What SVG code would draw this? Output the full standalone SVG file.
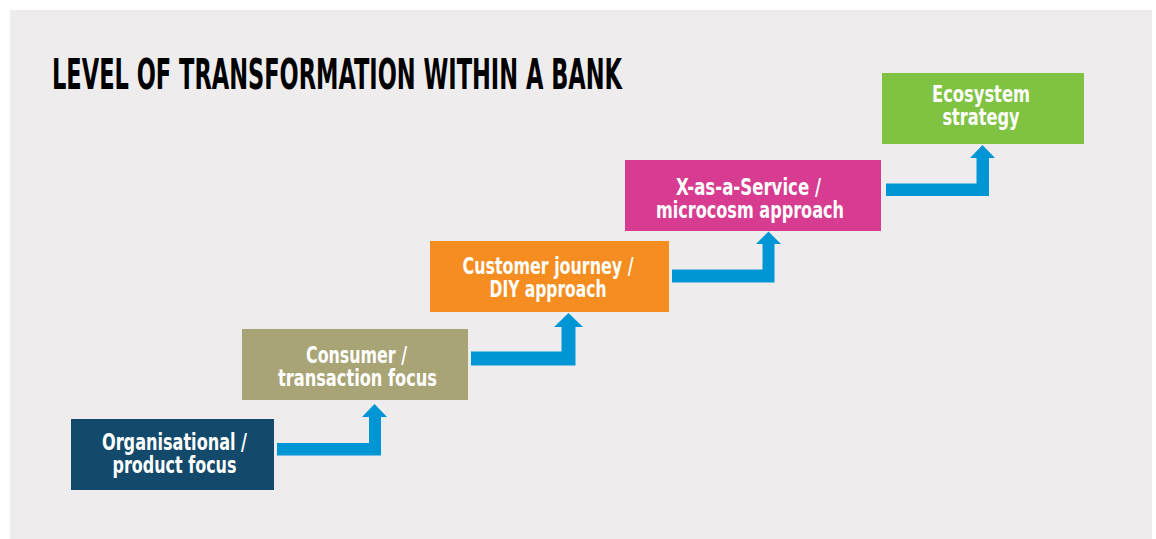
<svg xmlns="http://www.w3.org/2000/svg" width="1156" height="539" viewBox="0 0 1156 539">
<style>
.lbl{font-family:"DejaVu Sans Condensed","DejaVu Sans","Liberation Sans",sans-serif;font-weight:bold;font-size:23px;fill:#ffffff;text-anchor:middle}
.title{font-family:"DejaVu Sans Condensed","DejaVu Sans","Liberation Sans",sans-serif;font-weight:bold;font-size:42px;fill:#000000}
.arrow{fill:#0096d6}
</style>
<rect x="0" y="0" width="1156" height="539" fill="#ffffff"/>
<rect x="10" y="10" width="1142" height="529" fill="#efeced"/>
<text class="title" x="52" y="89" textLength="570" lengthAdjust="spacingAndGlyphs">LEVEL OF TRANSFORMATION WITHIN A BANK</text>
<g id="connectors">
<polygon class="arrow" points="277,443 369,443 369,417 362,417 374.5,404 387,417 381,417 381,455.5 277,455.5"/>
<polygon class="arrow" points="471,351.5 561.5,351.5 561.5,327 554,327 568.5,313 583,327 575.5,327 575.5,365.5 471,365.5"/>
<polygon class="arrow" points="672,269.5 762.5,269.5 762.5,244 756,244 768.5,231.5 781,244 774.5,244 774.5,282.5 672,282.5"/>
<polygon class="arrow" points="886,183.5 976.5,183.5 976.5,158 970,158 982.5,145 995,158 989,158 989,196 886,196"/>
</g>
<g id="node1">
<rect x="71" y="419" width="203" height="71" fill="#134a6b"/>
<text class="lbl" x="174.5" y="449.5" textLength="145" lengthAdjust="spacingAndGlyphs">Organisational /</text>
<text class="lbl" x="174.5" y="472.5" textLength="124" lengthAdjust="spacingAndGlyphs">product focus</text>
</g>
<g id="node2">
<rect x="242" y="329" width="226" height="71" fill="#a9a476"/>
<text class="lbl" x="356.5" y="362.5" textLength="101" lengthAdjust="spacingAndGlyphs">Consumer /</text>
<text class="lbl" x="357.5" y="386" textLength="159" lengthAdjust="spacingAndGlyphs">transaction focus</text>
</g>
<g id="node3">
<rect x="430" y="241" width="239" height="71" fill="#f58d20"/>
<text class="lbl" x="548" y="273.5" textLength="171" lengthAdjust="spacingAndGlyphs">Customer journey /</text>
<text class="lbl" x="548" y="297" textLength="117" lengthAdjust="spacingAndGlyphs">DIY approach</text>
</g>
<g id="node4">
<rect x="625" y="160" width="256" height="71" fill="#d73c91"/>
<text class="lbl" x="748.5" y="194.5" textLength="145" lengthAdjust="spacingAndGlyphs">X-as-a-Service /</text>
<text class="lbl" x="750" y="217.5" textLength="188" lengthAdjust="spacingAndGlyphs">microcosm approach</text>
</g>
<g id="node5">
<rect x="882" y="73" width="202" height="71" fill="#80c242"/>
<text class="lbl" x="981" y="101.5" textLength="98" lengthAdjust="spacingAndGlyphs">Ecosystem</text>
<text class="lbl" x="981" y="124.5" textLength="77" lengthAdjust="spacingAndGlyphs">strategy</text>
</g>
</svg>
